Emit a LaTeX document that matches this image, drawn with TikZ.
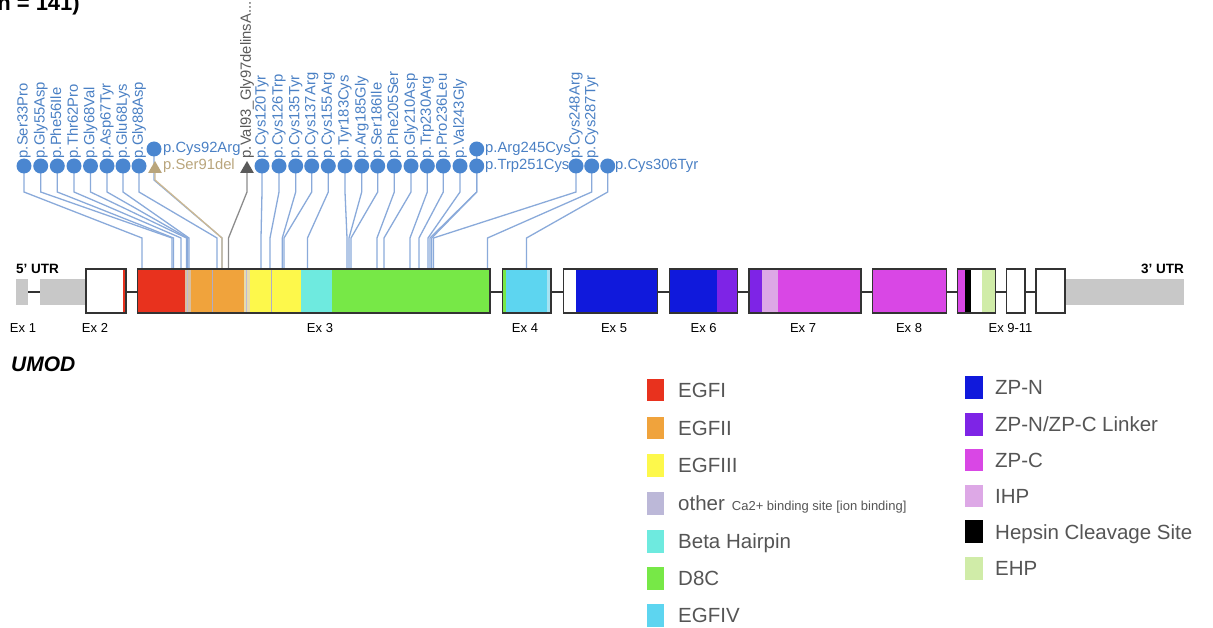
\documentclass[tikz,border=0pt]{standalone}
\usepackage{fontspec}
\setmainfont{Liberation Sans}
\usetikzlibrary{shapes.geometric,backgrounds}
\definecolor{dotblue}{HTML}{4A86D0}
\definecolor{lblblue}{HTML}{4A80C4}
\definecolor{lnblue}{HTML}{8AAADA}
\definecolor{mtan}{HTML}{B9A57C}
\definecolor{mtanln}{HTML}{CDB993}
\definecolor{mdark}{HTML}{5A5A5A}
\definecolor{mgreyln}{HTML}{8C8C8C}
\definecolor{legtxt}{HTML}{555555}
\definecolor{utr}{HTML}{C8C8C8}
\definecolor{exb}{HTML}{333333}
\definecolor{cegfI}{HTML}{E8321E}
\definecolor{cegfII}{HTML}{F0A33C}
\definecolor{cegfIII}{HTML}{FDF84B}
\definecolor{cother}{HTML}{BCB8D8}
\definecolor{cbeta}{HTML}{6EEADF}
\definecolor{cdc}{HTML}{77E847}
\definecolor{cegfIV}{HTML}{5DD5F0}
\definecolor{czpn}{HTML}{1019DC}
\definecolor{clink}{HTML}{7E24E6}
\definecolor{czpc}{HTML}{D947E5}
\definecolor{cihp}{HTML}{DDA8E6}
\definecolor{cehp}{HTML}{D0ECA8}
\definecolor{cstripe}{HTML}{D8BFA0}
\definecolor{cstripeb}{HTML}{E9DCA8}
\definecolor{cpalecyan}{HTML}{A6E3F2}
\begin{document}
\begin{tikzpicture}[x=1pt,y=-1pt,
  mutdot/.style={circle,fill=dotblue,minimum size=15pt,inner sep=0pt},
  mutlbl/.style={rotate=90,anchor=west,inner sep=0pt,font=\fontsize{14.8}{16}\selectfont,text=lblblue},
  hlbl/.style={anchor=west,inner sep=0pt,font=\fontsize{14.8}{16}\selectfont,text=lblblue},
  conn/.style={draw=lnblue,line width=1.3pt},
  exonbox/.style={draw=exb,line width=1.2pt},
  intron/.style={draw=exb,line width=1.2pt},
  exlbl/.style={inner sep=0pt,font=\fontsize{13}{15}\selectfont,text height=9.3pt,text depth=0pt},
  legsq/.style={rectangle,inner sep=0pt,minimum width=17.5pt,minimum height=22.5pt},
  legtext/.style={anchor=west,inner sep=0pt,font=\fontsize{20.5}{24}\selectfont,text=legtxt,text height=14.7pt,text depth=0pt}
]
\useasboundingbox (0,0) rectangle (1213,628);
\clip (0,0) rectangle (1213,628);

\coordinate (k1) at (0,192);
\coordinate (k0) at (0,180);
\coordinate (k2) at (0,238);

% title fragment
\node[anchor=base east,inner sep=0pt,font=\fontsize{22}{26}\selectfont\bfseries] (title) at (80,10.5) {(n = 141)};

% mutations with vertical labels
\foreach \x/\t/\txt [count=\i] in {24/142/Ser33Pro,40.7/172/Gly55Asp,57.3/173.5/Phe56Ile,74/181/Thr62Pro,90.5/186.5/Gly68Val,107/187.7/Asp67Tyr,123/189/Glu68Lys,139/217/Gly88Asp,262/261/Cys120Tyr,279/270/Cys126Trp,295.7/282.3/Cys135Tyr,311.7/284/Cys137Arg,328.3/307.5/Cys155Arg,345/347/Tyr183Cys,361.7/349/Arg185Gly,377.7/351/Ser186Ile,394.3/377/Phe205Ser,411/384/Gly210Asp,427.3/410/Trp230Arg,443.3/419/Pro236Leu,460/428/Val243Gly,576/433.5/Cys248Arg,591.7/487.5/Cys287Tyr}
{
  \node[mutdot] (d\i) at (\x,166) {};
  \node[mutlbl] (l\i) at (\x,158.5) {p.\txt};
  \coordinate (t\i) at (\t,269);
  \begin{pgfonlayer}{background}
    \draw[conn] (d\i.center) -- (d\i |- k1) -- (t\i |- k2) -- (t\i);
  \end{pgfonlayer}
}

% mutations with horizontal labels
\node[mutdot] (c92) at (154,149) {};
\node[hlbl] (lc92) at (163,149) {p.Cys92Arg};
\node[regular polygon,regular polygon sides=3,fill=mtan,minimum size=16pt,inner sep=0pt] (s91) at (155,169) {};
\node[hlbl,text=mtan] (ls91) at (163,166) {p.Ser91del};
\node[regular polygon,regular polygon sides=3,fill=mdark,minimum size=16pt,inner sep=0pt] (v93) at (247,169) {};
\node[mutlbl,text=mdark] (lv93) at (247,158.5) {p.Val93\_Gly97delinsA...};
\node[mutdot] (r245) at (476.7,149) {};
\node[hlbl] (lr245) at (485,149) {p.Arg245Cys};
\node[mutdot] (w251) at (476.7,166) {};
\node[hlbl] (lw251) at (485,166) {p.Trp251Cys};
\node[mutdot] (c306) at (607.7,166) {};
\node[hlbl] (lc306) at (615,166) {p.Cys306Tyr};

\coordinate (tc92) at (222,269);
\coordinate (ts91) at (222,269);
\coordinate (tv93) at (228.5,269);
\coordinate (tr245) at (430,269);
\coordinate (tw251) at (431.7,269);
\coordinate (tc306) at (526.5,269);
\begin{pgfonlayer}{background}
  \draw[conn] (c92.center) -- (c92 |- k0) -- (tc92 |- k2) -- (tc92);
  \draw[draw=mtanln,line width=1.3pt] (s91.center) -- (s91 |- k0) -- (ts91 |- k2) -- (ts91);
  \draw[draw=mgreyln,line width=1.3pt] (v93.center) -- (v93 |- k1) -- (tv93 |- k2) -- (tv93);
  \draw[conn] (r245.center) -- (r245 |- k1) -- (tr245 |- k2) -- (tr245);
  \draw[conn] (w251.center) -- (w251 |- k1) -- (tw251 |- k2) -- (tw251);
  \draw[conn] (c306.center) -- (c306 |- k1) -- (tc306 |- k2) -- (tc306);
\end{pgfonlayer}

% UTRs
\fill[utr] (16,279) rectangle (28,305);
\fill[utr] (40,279) rectangle (86,305);
\fill[utr] (1065,279) rectangle (1184,305);

% introns
\foreach \a/\b in {28/40,126/137.5,490/502.3,551/563.3,657.7/669.3,737.7/749,861/872.7,946.7/957.7,995.7/1006.7,1025/1036}
  \draw[intron] (\a,292) -- (\b,292);

% Exon 2
\fill[white] (86,269) rectangle (122.7,313);
\fill[cegfI] (122.7,269) rectangle (126,313);
\draw[exonbox] (86,269) rectangle (126,313);

% Exon 3
\fill[cegfI] (137.5,269) rectangle (185,313);
\fill[cstripe] (185,269) rectangle (191,313);
\fill[cegfII] (191,269) rectangle (244,313);
\fill[cstripeb] (244,269) rectangle (249.5,313);
\fill[cegfIII] (249.5,269) rectangle (301,313);
\fill[cbeta] (301,269) rectangle (331.7,313);
\fill[cdc] (331.7,269) rectangle (490,313);
\draw[cother,line width=1pt] (187.5,269) -- (187.5,313);
\draw[cother!80!gray,line width=0.8pt] (212.5,269) -- (212.5,313);
\draw[cother,line width=1pt] (246.5,269) -- (246.5,313);
\draw[cother!80!gray,line width=0.8pt] (271.7,269) -- (271.7,313);
\draw[exonbox] (137.5,269) rectangle (490,313);

% Exon 4
\fill[cdc] (502.3,269) rectangle (506,313);
\fill[cegfIV] (506,269) rectangle (546.5,313);
\fill[cpalecyan] (546.5,269) rectangle (551,313);
\draw[exonbox] (502.3,269) rectangle (551,313);

% Exon 5
\fill[white] (563.3,269) rectangle (575.5,313);
\fill[czpn] (575.5,269) rectangle (657.7,313);
\draw[exonbox] (563.3,269) rectangle (657.7,313);

% Exon 6
\fill[czpn] (669.3,269) rectangle (716.7,313);
\fill[clink] (716.7,269) rectangle (737.7,313);
\draw[exonbox] (669.3,269) rectangle (737.7,313);

% Exon 7
\fill[clink] (749,269) rectangle (761.7,313);
\fill[cihp] (761.7,269) rectangle (778.3,313);
\fill[czpc] (778.3,269) rectangle (861,313);
\draw[exonbox] (749,269) rectangle (861,313);

% Exon 8
\fill[czpc] (872.7,269) rectangle (946.7,313);
\draw[exonbox] (872.7,269) rectangle (946.7,313);

% Exon 9
\fill[czpc] (957.7,269) rectangle (965,313);
\fill[black] (965,269) rectangle (970.7,313);
\fill[white] (970.7,269) rectangle (981.7,313);
\fill[cehp] (981.7,269) rectangle (995.7,313);
\draw[exonbox] (957.7,269) rectangle (995.7,313);

% Exons 10, 11
\draw[exonbox,fill=white] (1006.7,269) rectangle (1025,313);
\draw[exonbox,fill=white] (1036,269) rectangle (1065,313);

% gene labels
\node[anchor=west,inner sep=0pt,font=\fontsize{13.5}{15}\selectfont\bfseries,text height=9.7pt,text depth=0pt] (utr5) at (16,269) {5’ UTR};
\node[anchor=east,inner sep=0pt,font=\fontsize{13.5}{15}\selectfont\bfseries,text height=9.7pt,text depth=0pt] (utr3) at (1184,268.3) {3’ UTR};
\node[exlbl] (e1) at (23,327.7) {Ex 1};
\node[exlbl] (e2) at (95,327.7) {Ex 2};
\node[exlbl] (e3) at (320,327.7) {Ex 3};
\node[exlbl] (e4) at (525,327.7) {Ex 4};
\node[exlbl] (e5) at (614,327.7) {Ex 5};
\node[exlbl] (e6) at (703.7,327.7) {Ex 6};
\node[exlbl] (e7) at (803,327.7) {Ex 7};
\node[exlbl] (e8) at (909,327.7) {Ex 8};
\node[exlbl] (e9) at (1010.5,327.7) {Ex 9-11};
\node[anchor=west,inner sep=0pt,font=\fontsize{21}{24}\selectfont\bfseries\itshape,text height=15pt,text depth=0pt] (umod) at (11,364) {UMOD};

% legend left
\node[legsq,fill=cegfI] (q1) at (655.5,390) {};
\node[legtext] (g1) at (678,390) {EGFI};
\node[legsq,fill=cegfII] (q2) at (655.5,428) {};
\node[legtext] (g2) at (678,428) {EGFII};
\node[legsq,fill=cegfIII] (q3) at (655.5,465.5) {};
\node[legtext] (g3) at (678,465.5) {EGFIII};
\node[legsq,fill=cother] (q4) at (655.5,503.3) {};
\node[legtext] (g4) at (678,503.3) {other\hspace{7pt}{\fontsize{13}{15}\selectfont Ca2+ binding site [ion binding]}};
\node[legsq,fill=cbeta] (q5) at (655.5,541.5) {};
\node[legtext] (g5) at (678,541.5) {Beta Hairpin};
\node[legsq,fill=cdc] (q6) at (655.5,578.5) {};
\node[legtext] (g6) at (678,578.5) {D8C};
\node[legsq,fill=cegfIV] (q7) at (655.5,615.5) {};
\node[legtext] (g7) at (678,615.5) {EGFIV};

% legend right
\node[legsq,fill=czpn] (p1) at (974,387.3) {};
\node[legtext] (h1) at (995,387.3) {ZP-N};
\node[legsq,fill=clink] (p2) at (974,424.5) {};
\node[legtext] (h2) at (995,424.5) {ZP-N/ZP-C Linker};
\node[legsq,fill=czpc] (p3) at (974,460) {};
\node[legtext] (h3) at (995,460) {ZP-C};
\node[legsq,fill=cihp] (p4) at (974,496) {};
\node[legtext] (h4) at (995,496) {IHP};
\node[legsq,fill=black] (p5) at (974,531.7) {};
\node[legtext] (h5) at (995,531.7) {Hepsin Cleavage Site};
\node[legsq,fill=cehp] (p6) at (974,568.3) {};
\node[legtext] (h6) at (995,568.3) {EHP};
\end{tikzpicture}
\end{document}
